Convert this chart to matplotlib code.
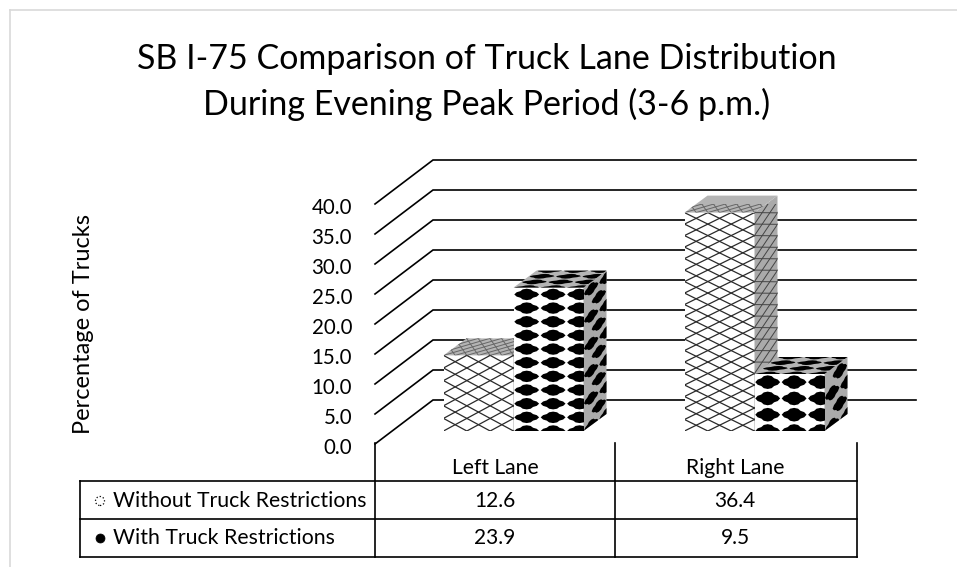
#coding:utf-8
import numpy as np
import matplotlib
matplotlib.use('Agg')
import matplotlib.pyplot as plt
from matplotlib.collections import LineCollection, PolyCollection
from matplotlib.patches import Polygon
from matplotlib.transforms import Affine2D

plt.rcParams['font.family'] = ['Lato', 'DejaVu Sans']

categories = ['Left Lane', 'Right Lane']
series_names = ['Without Truck Restrictions', 'With Truck Restrictions']
without_restrictions = [12.6, 36.4]
with_restrictions = [23.9, 9.5]
y_ticks = [0, 5, 10, 15, 20, 25, 30, 35, 40]
title_lines = 'SB I-75 Comparison of Truck Lane Distribution\nDuring Evening Peak Period (3-6 p.m.)'
y_label = 'Percentage of Trucks'

W, H = 957, 567
# plot front plane in pixels
LEFT, RIGHT, BASE, TOP = 375, 857, 444, 204
PX_X = (RIGHT - LEFT) / 2.0
PX_Y = (BASE - TOP) / 40.0
WALL_DX, WALL_DY = 58, 44
WALL_END = 916
BAR_W = 70.0 / PX_X
BAR_DX, BAR_DY = 18, 13
SIDE_DX, SIDE_DY = 23, 17

fig = plt.figure(figsize=(W / 100, H / 100), dpi=100, facecolor='white')

# page coords axes for the title, border and table
page = fig.add_axes([0, 0, 1, 1])
page.set_xlim(0, W)
page.set_ylim(H, 0)
page.axis('off')

ax = fig.add_axes([LEFT / W, 1 - BASE / H, (RIGHT - LEFT) / W, (BASE - TOP) / H])
ax.patch.set_alpha(0)
ax.set_xlim(0, 2)
ax.set_ylim(0, 40)
for s in ax.spines.values():
    s.set_visible(False)
ax.set_xticks([])
ax.set_yticks(y_ticks)
ax.set_yticklabels(['%.1f' % v for v in y_ticks], fontsize=14.8)
ax.tick_params(axis='y', length=0, pad=16.5)
for lab in ax.get_yticklabels():
    lab.set_transform(lab.get_transform() + Affine2D().translate(0, -2))

page.plot([10, W], [10, 10], color='#d9d9d9', lw=1.2)
page.plot([10, 10], [10, H], color='#d9d9d9', lw=1.2)
page.text(487, 82, title_lines, ha='center', va='center', fontsize=24.5, linespacing=1.5, color='black')
page.text(83, 324, y_label, rotation=90, ha='center', va='center', fontsize=17)

def shift(x, y, dx, dy):
    return x + dx / PX_X, y + dy / PX_Y

# walls
for v in y_ticks:
    bx, by = shift(0, v, WALL_DX, WALL_DY)
    ex, _ = shift(0, v, WALL_END - LEFT, 0)
    ax.plot([0, bx, ex], [v, by, by], color='black', lw=1.2, clip_on=False, zorder=1, solid_joinstyle='miter')

def face_map(o, u, v):
    o, u, v = np.array(o), np.array(u), np.array(v)
    def f(s, t):
        return o + s * u + t * v
    return f

def draw_face(pts, color, z):
    poly = Polygon(pts, closed=True, facecolor=color, edgecolor='none', clip_on=False, zorder=z)
    ax.add_patch(poly)
    return poly

def add_lattice(poly, f, nu, nv, color, lw, z):
    segs = []
    for k in np.arange(-np.ceil(nv), np.ceil(nu) + 1):
        # both diagonals of the lattice
        a = [(k + i) / nu for i in (0, np.ceil(nv) + 1)]
        b = [i / nv for i in (0, np.ceil(nv) + 1)]
        segs.append([f(a[0], b[0]), f(a[1], b[1])])
        a = [(k + 1 + np.ceil(nv) - i) / nu for i in (0, np.ceil(nv) + 1)]
        segs.append([f(a[0], b[0]), f(a[1], b[1])])
    lc = LineCollection(segs, colors=color, linewidths=lw, zorder=z)
    ax.add_collection(lc)
    lc.set_clip_path(poly)

DIAMOND = [(-.47, 0), (-.38, .16), (-.24, .24), (-.15, .37), (0, .42), (.15, .37), (.24, .24), (.38, .16), (.47, 0),
           (.38, -.16), (.24, -.24), (.15, -.37), (0, -.42), (-.15, -.37), (-.24, -.24), (-.38, -.16)]

def add_diamonds(poly, f, nu, nv, color, z, stagger=False):
    polys = []
    for j in np.arange(0, np.ceil(nv) + 2):
        for i in np.arange(0, np.ceil(nu) + 1):
            off = 0.5 if (stagger and int(j) % 2) else 0.0
            cs, ct = (i + 0.5 + off) / nu, j / nv
            polys.append([f(cs + p / nu, ct + q / nv) for p, q in DIAMOND])
    pc = PolyCollection(polys, facecolors=color, edgecolors='none', zorder=z)
    ax.add_collection(pc)
    pc.set_clip_path(poly)

def draw_bar(x0, value, kind, rows, z):
    x1 = x0 + BAR_W
    x_a, y_a = shift(x0, 0, BAR_DX, BAR_DY)
    x_b, _ = shift(x1, 0, BAR_DX, BAR_DY)
    top = y_a + value
    sx, sy = SIDE_DX / PX_X, SIDE_DY / PX_Y
    front = draw_face([(x_a, y_a), (x_b, y_a), (x_b, top), (x_a, top)], 'white', z)
    side = draw_face([(x_b, y_a), (x_b + sx, y_a + sy), (x_b + sx, top + sy), (x_b, top)], '#aaaaaa', z)
    upper = draw_face([(x_a, top), (x_b, top), (x_b + sx, top + sy), (x_a + sx, top + sy)], '#b4b4b4', z)
    f_front = face_map((x_a, y_a), (x_b - x_a, 0), (0, value))
    f_side = face_map((x_b, y_a), (sx, sy), (0, value))
    f_top = face_map((x_a, top), (x_b - x_a, 0), (sx, sy))
    if kind == 'lattice':
        add_lattice(front, f_front, 3, rows, '#2a2a2a', 0.9, z + 0.1)
        add_lattice(side, f_side, 1.5, rows, '#444444', 0.7, z + 0.1)
        add_lattice(upper, f_top, 6, 3, '#666666', 0.7, z + 0.1)
    else:
        add_diamonds(front, f_front, 2.65, rows, 'black', z + 0.1)
        add_diamonds(side, f_side, 1.5, rows, 'black', z + 0.1, stagger=True)
        add_diamonds(upper, f_top, 2.65, 3, 'black', z + 0.1)

# series go side by side around each category centre
without_rows = [6, 19]
with_rows = [10.5, 3.5]
for i in range(len(categories)):
    centre = i + 0.5
    draw_bar(centre - BAR_W, without_restrictions[i], 'lattice', without_rows[i], 3 + i)
    draw_bar(centre, with_restrictions[i], 'diamonds', with_rows[i], 3.5 + i)

# data table under the plot
T_LEFT, T_SPLIT, T_MID, T_RIGHT = 80, LEFT, 615, 857
T_HEAD, T_ROW1, T_BOT = 481, 519, 557
line = dict(color='black', lw=1.2, solid_capstyle='projecting')
for xv in [T_SPLIT, T_MID, T_RIGHT]:
    page.plot([xv, xv], [BASE - 1, T_BOT], **line)
page.plot([T_LEFT, T_LEFT], [T_HEAD, T_BOT], **line)
for yv in [T_HEAD, T_ROW1, T_BOT]:
    page.plot([T_LEFT, T_RIGHT], [yv, yv], **line)

col_x = [495, 735]
row_y = [501, 538]
for i in range(len(categories)):
    page.text(col_x[i], 468, categories[i], ha='center', va='center', fontsize=15.2)
    page.text(col_x[i], row_y[0], '%.1f' % without_restrictions[i], ha='center', va='center', fontsize=15)
    page.text(col_x[i], row_y[1], '%.1f' % with_restrictions[i], ha='center', va='center', fontsize=15)
page.text(113, row_y[0], series_names[0], ha='left', va='center', fontsize=15.3)
page.text(113, row_y[1], series_names[1], ha='left', va='center', fontsize=15.3)
page.scatter([100], [row_y[0]], s=42, facecolor='white', edgecolor='black', linewidth=0.9, linestyle=':')
page.scatter([100], [row_y[1]], s=42, facecolor='black', edgecolor='black', linewidth=0.5)

fig.savefig('out.png', dpi=100)
